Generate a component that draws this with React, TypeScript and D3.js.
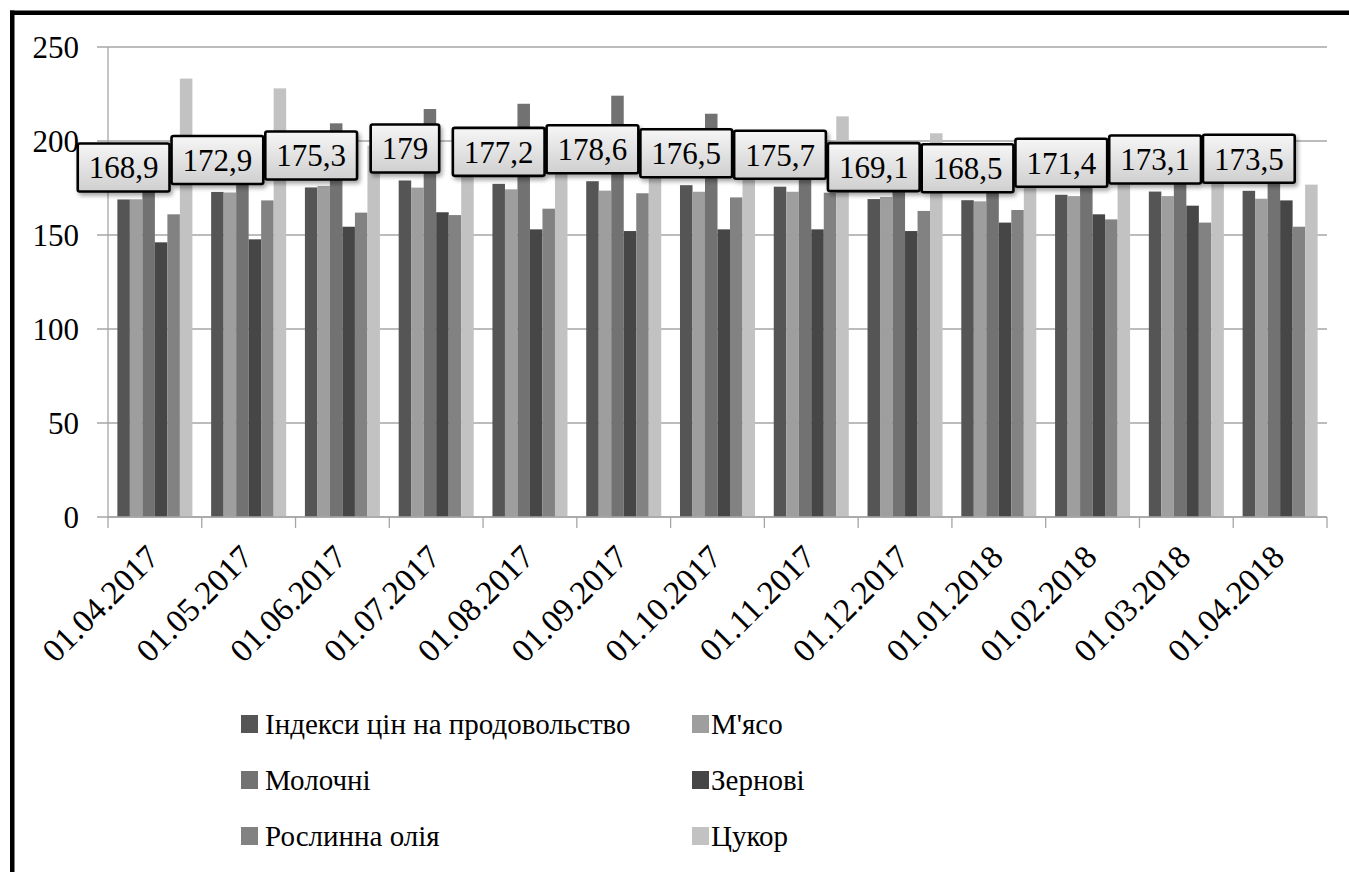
import React, { useEffect, useRef } from 'react';
import * as d3 from 'd3';

const categories = ['01.04.2017', '01.05.2017', '01.06.2017', '01.07.2017', '01.08.2017', '01.09.2017', '01.10.2017', '01.11.2017', '01.12.2017', '01.01.2018', '01.02.2018', '01.03.2018', '01.04.2018'];
const seriesNames = ['Індекси цін на продовольство', "М'ясо", 'Молочні', 'Зернові', 'Рослинна олія', 'Цукор'];
const foodIndex = [168.9, 172.9, 175.3, 179, 177.2, 178.6, 176.5, 175.7, 169.1, 168.5, 171.4, 173.1, 173.5];
const meat = [169.0, 172.6, 176.1, 175.2, 174.3, 173.6, 173.0, 173.0, 170.2, 167.9, 170.7, 170.7, 169.3];
const dairy = [180, 193, 209.4, 217, 219.8, 224.1, 214.5, 198, 185, 179, 196, 199, 200];
const cereals = [146.1, 147.7, 154.4, 162.1, 153, 152.1, 153, 153, 152.1, 156.6, 161, 165.6, 168.4];
const oils = [161.0, 168.4, 161.9, 160.6, 164, 172.2, 170, 172.5, 162.8, 163.3, 158.3, 156.6, 154.4];
const sugar = [233.2, 228.0, 197.5, 206, 200, 202, 195, 213.1, 204.1, 186, 186, 180, 176.8];
const yTicks = [0, 50, 100, 150, 200, 250];
const colors = ['#555555', '#9e9e9e', '#727272', '#464646', '#828282', '#c2c2c2'];

const seriesValues = [foodIndex, meat, dairy, cereals, oils, sugar];
const FONT = 'Liberation Serif';

function approxWidth(text: string, size: number): number {
  let w = 0;
  for (const ch of text) w += ch === ',' || ch === '.' ? 0.25 : 0.5;
  return w * size;
}

export default function App() {
  const ref = useRef<SVGSVGElement | null>(null);
  const W = 1349, H = 872;

  useEffect(() => {
    const svg = d3.select(ref.current!);
    svg.selectAll('*').remove();
    const x = d3.scaleBand<string>().domain(categories).range([108, 1327]).padding(0);
    const xs = d3.scaleBand<number>().domain(d3.range(6)).range([0, x.bandwidth()]).paddingInner(0).paddingOuter(0.75);
    const y = d3.scaleLinear().domain([0, 250]).range([517, 47]);
    const fmt = (v: number) => String(v).replace('.', ',');

    const defs = svg.append('defs');
    const g = defs.append('linearGradient').attr('id', 'lblGrad').attr('x1', 0).attr('y1', 0).attr('x2', 0).attr('y2', 1);
    g.append('stop').attr('offset', 0).attr('stop-color', '#f6f6f6');
    g.append('stop').attr('offset', 1).attr('stop-color', '#cfcfcf');
    defs.append('filter').attr('id', 'shadow').attr('x', '-20%').attr('y', '-20%').attr('width', '140%').attr('height', '160%')
      .append('feDropShadow').attr('dx', 2).attr('dy', 3).attr('stdDeviation', 2).attr('flood-color', '#000').attr('flood-opacity', 0.35);

    svg.append('rect').attr('width', W).attr('height', H).attr('fill', '#fff');

    const grid = svg.append('g');
    yTicks.forEach(t => {
      grid.append('line').attr('x1', 97).attr('x2', 1327).attr('y1', y(t)).attr('y2', y(t)).attr('stroke', '#a6a6a6').attr('stroke-width', 1.3);
      grid.append('text').attr('x', 79).attr('y', y(t)).attr('dy', '0.35em').attr('text-anchor', 'end')
        .attr('font-size', 31).attr('font-family', FONT).style('font-family', FONT).text(t);
    });
    svg.append('line').attr('x1', 108).attr('x2', 108).attr('y1', y(250)).attr('y2', 528).attr('stroke', '#a6a6a6').attr('stroke-width', 1.3);
    categories.forEach(c => {
      const xx = x(c)! + x.bandwidth();
      svg.append('line').attr('x1', xx).attr('x2', xx).attr('y1', 517).attr('y2', 528).attr('stroke', '#a6a6a6').attr('stroke-width', 1.3);
    });

    categories.forEach((c, ci) => {
      seriesValues.forEach((vals, si) => {
        svg.append('rect').attr('x', x(c)! + xs(si)!).attr('width', xs.bandwidth())
          .attr('y', y(vals[ci])).attr('height', y(0) - y(vals[ci])).attr('fill', colors[si]);
      });
    });
    svg.append('line').attr('x1', 108).attr('x2', 1327).attr('y1', 517).attr('y2', 517).attr('stroke', '#a6a6a6').attr('stroke-width', 1.3);

    categories.forEach((c, ci) => {
      const v = foodIndex[ci];
      const txt = fmt(v);
      const bw = approxWidth(txt, 31) + 22;
      const bh = 48;
      const cx = x(c)! + xs(0)! + xs.bandwidth() / 2;
      const bottom = y(v) - 8;
      svg.append('rect').attr('x', cx - bw / 2).attr('y', bottom - bh).attr('width', bw).attr('height', bh).attr('rx', 2)
        .attr('fill', 'url(#lblGrad)').attr('stroke', '#000').attr('stroke-width', 2.6).attr('filter', 'url(#shadow)');
      svg.append('text').attr('x', cx).attr('y', bottom - bh / 2).attr('dy', '0.35em').attr('text-anchor', 'middle')
        .attr('font-size', 31).attr('font-family', FONT).style('font-family', FONT).text(txt);
    });

    categories.forEach(c => {
      const px = x(c)! + x.bandwidth() / 2 + 6;
      const py = 559;
      svg.append('text').attr('x', px).attr('y', py).attr('text-anchor', 'end').attr('font-size', 33)
        .attr('font-family', FONT).style('font-family', FONT)
        .attr('transform', `rotate(-45 ${px} ${py})`).text(c);
    });

    const legendItems = [
      { i: 0, sx: 241, tx: 265, row: 0 },
      { i: 1, sx: 692, tx: 711, row: 0 },
      { i: 2, sx: 241, tx: 265, row: 1 },
      { i: 3, sx: 692, tx: 711, row: 1 },
      { i: 4, sx: 241, tx: 265, row: 2 },
      { i: 5, sx: 692, tx: 711, row: 2 },
    ];
    legendItems.forEach(it => {
      const cy = 724 + it.row * 56;
      svg.append('rect').attr('x', it.sx).attr('y', cy - 9).attr('width', 17).attr('height', 18).attr('fill', colors[it.i]);
      svg.append('text').attr('x', it.tx).attr('y', cy).attr('dy', '0.35em').attr('font-size', 29)
        .attr('font-family', FONT).style('font-family', FONT).text(seriesNames[it.i]);
    });

    svg.append('line').attr('x1', 12.25).attr('y1', 10.5).attr('x2', 12.25).attr('y2', 880).attr('stroke', '#000').attr('stroke-width', 4.5);
    svg.append('line').attr('x1', 10).attr('y1', 12.75).attr('x2', 1400).attr('y2', 12.75).attr('stroke', '#000').attr('stroke-width', 4.5);
  }, []);

  return <svg ref={ref} width={W} height={H} style={{ position: 'absolute', left: 0, top: 0 }} />;
}
